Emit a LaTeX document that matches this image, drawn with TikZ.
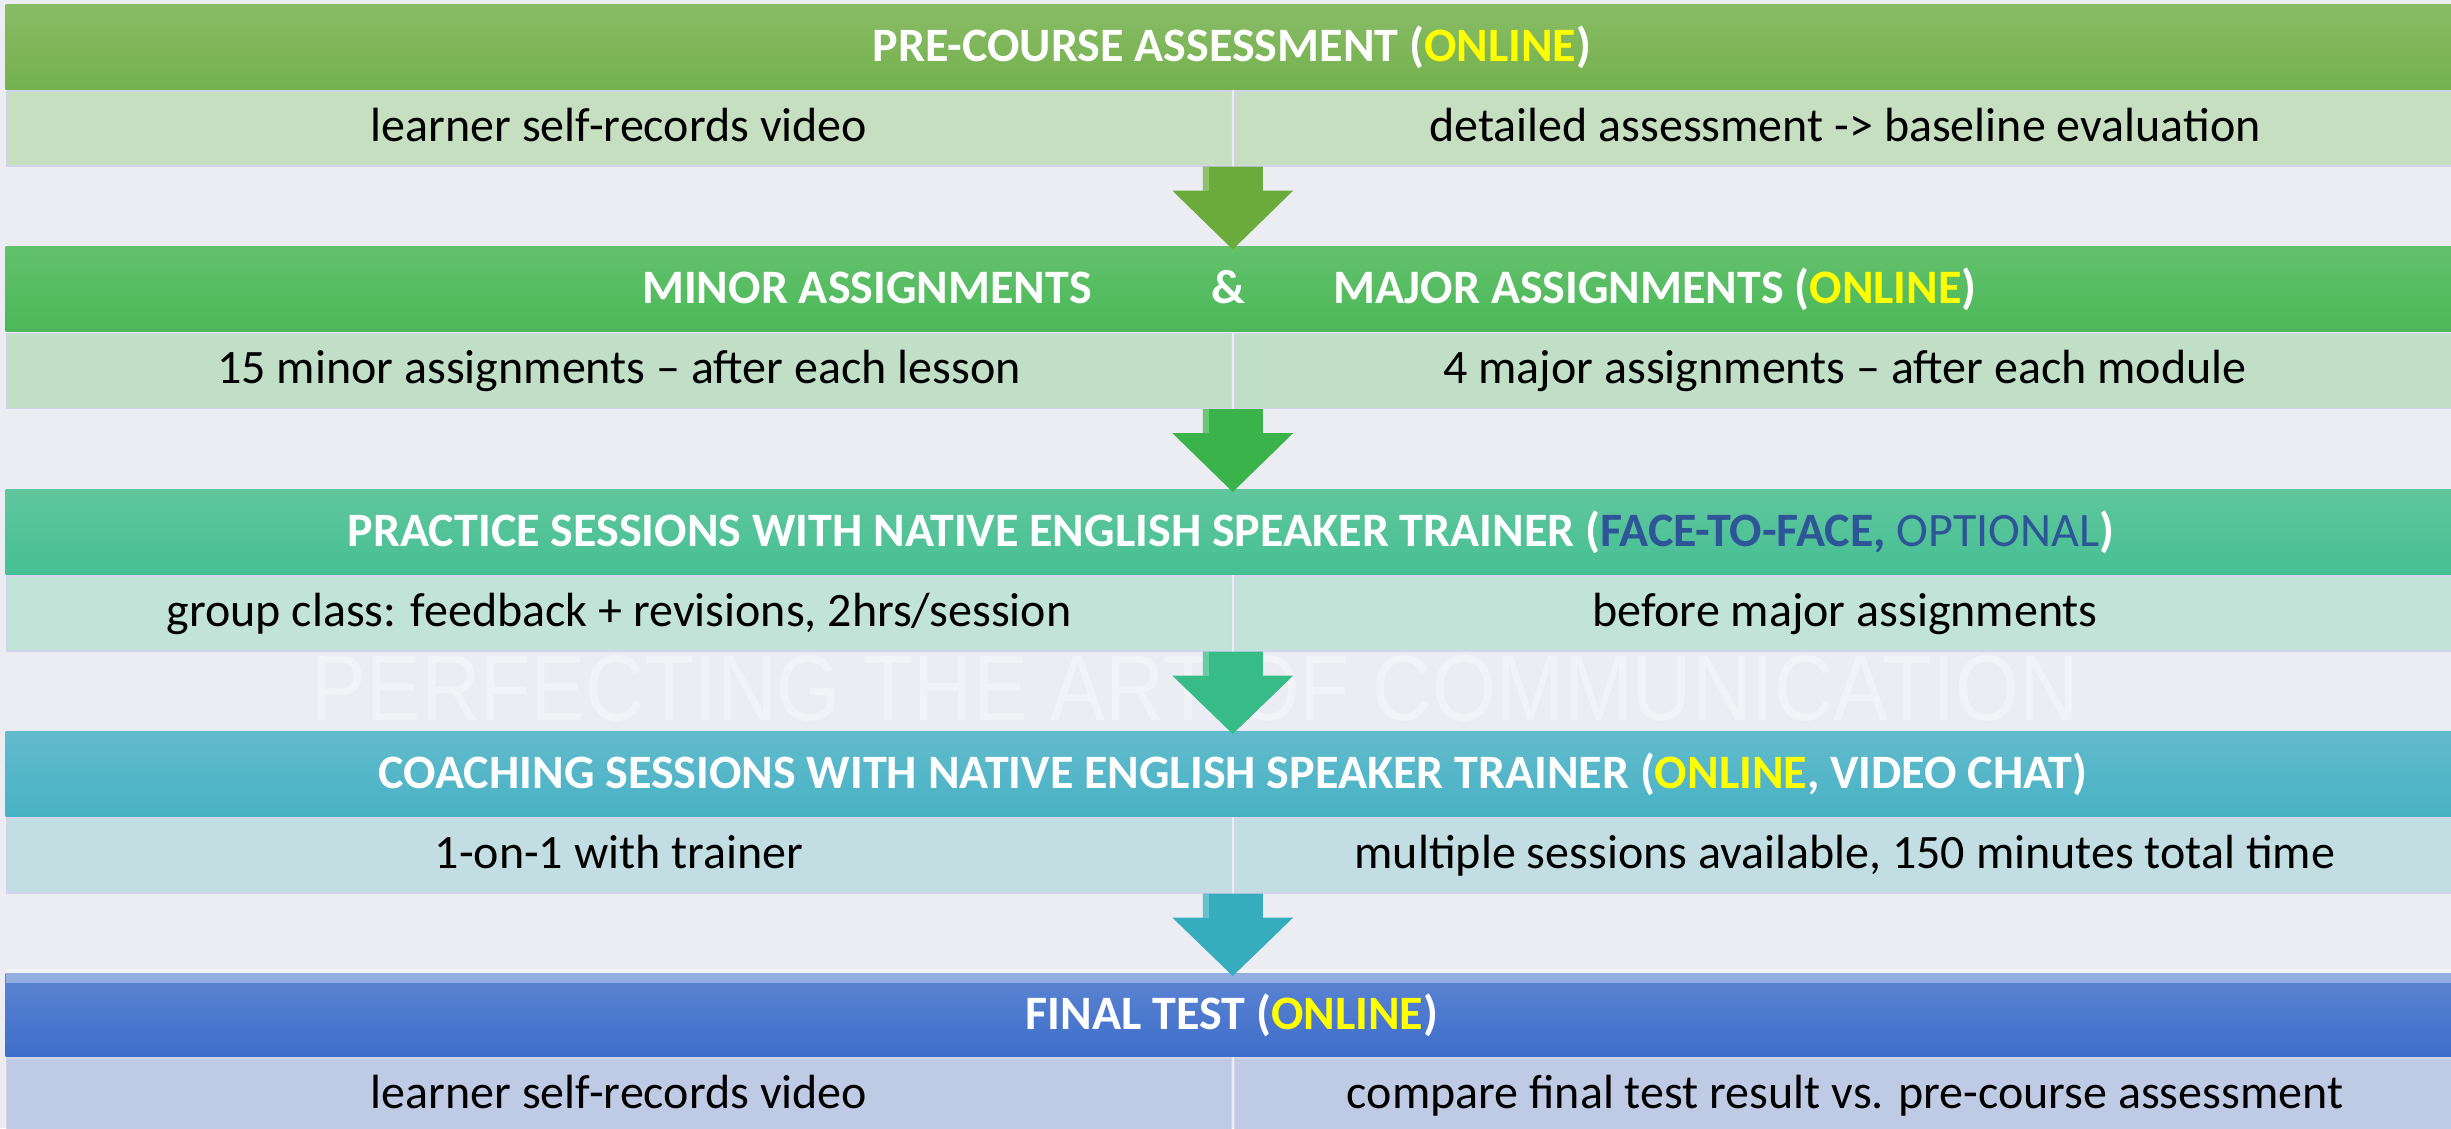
\documentclass[tikz,border=0pt]{standalone}
\usepackage{fontspec}
\usepackage{graphicx}
\setmainfont{Carlito}
\setsansfont{Liberation Sans}
\usetikzlibrary{calc,shadings}
\definecolor{bg}{HTML}{EBEDF2}
\definecolor{ylw}{HTML}{FFFF00}
\definecolor{dkb}{HTML}{2E5597}
\definecolor{bordc}{HTML}{D2D5E9}
\definecolor{hAt}{HTML}{88BC66}\definecolor{hAb}{HTML}{75B14D}
\definecolor{hBt}{HTML}{63C16C}\definecolor{hBb}{HTML}{4BB858}
\definecolor{hCt}{HTML}{60C69E}\definecolor{hCb}{HTML}{46C093}
\definecolor{hDt}{HTML}{62BBCC}\definecolor{hDb}{HTML}{48B2C5}
\definecolor{hEt}{HTML}{5C84D1}\definecolor{hEb}{HTML}{3E6ECB}
\definecolor{sA}{HTML}{C7DFC1}
\definecolor{sB}{HTML}{C1DFC6}
\definecolor{sC}{HTML}{C2E3D8}
\definecolor{sD}{HTML}{C2DEE3}
\definecolor{sE}{HTML}{BFCAE4}
\definecolor{aA}{HTML}{6AAB3B}
\definecolor{aB}{HTML}{3BB34B}
\definecolor{aC}{HTML}{37BB87}
\definecolor{aD}{HTML}{35ADBC}
\newcommand\blockarrow[3]{%
  \fill[#3] ([xshift=-30pt]#1) -- ([xshift=30pt]#1) -- ([xshift=30pt,yshift=-24pt]#1)
    -- ([xshift=60.5pt,yshift=-24pt]#1) -- (#2) -- ([xshift=-60.5pt,yshift=-24pt]#1)
    -- ([xshift=-30pt,yshift=-24pt]#1) -- cycle;
  \fill[white,opacity=0.25] ([xshift=-30pt]#1) rectangle ([xshift=-24pt,yshift=-24pt]#1);}
\begin{document}
\begin{tikzpicture}[x=1pt,y=-1pt,
  hdr/.style={rectangle, inner sep=0pt, minimum width=2456pt, minimum height=85pt, anchor=north west, draw=none},
  subbox/.style={rectangle, inner sep=0pt, minimum height=75pt, anchor=north west, draw=bordc, line width=1.5pt},
  htxt/.style={anchor=base, text=white, font=\fontsize{48}{56}\selectfont\bfseries, inner sep=0pt},
  stxt/.style={anchor=base, text=black, font=\fontsize{48}{56}\selectfont, inner sep=0pt},
  wm/.style={anchor=base, text=white, opacity=0.38, inner sep=0pt},
]
\fill[bg] (0,0) rectangle (2451,1128);
\useasboundingbox (0,0) rectangle (2451,1128);
\clip (0,0) rectangle (2451,1128);

% watermark
\node[wm] (wmark) at (1195,720) {\resizebox{1766pt}{65pt}{\sffamily PERFECTING THE ART OF COMMUNICATION}};

% ---------- row 1
\node[hdr, top color=hAt, bottom color=hAb] (h1) at (5.5,4) {};
\node[htxt] (h1t) at (1232,61) {PRE-COURSE ASSESSMENT (\textcolor{ylw}{ONLINE})};
\node[subbox, fill=sA, minimum width=1225pt] (s1l) at (5.5,90) {};
\node[subbox, fill=sA, minimum width=1226pt] (s1r) at (1233.5,90) {};
\node[stxt] (t1l) at (619,141) {learner self-records video};
\node[stxt] (t1r) at (1845,141) {detailed assessment -> baseline evaluation};

% ---------- row 2
\node[hdr, top color=hBt, bottom color=hBb] (h2) at (5.5,246.5) {};
\node[htxt, anchor=base west] (h2a) at (642,303.5) {MINOR ASSIGNMENTS};
\node[htxt] (h2b) at (1228,303.5) {\&};
\node[htxt, anchor=base west] (h2c) at (1333,303.5) {MAJOR ASSIGNMENTS (\textcolor{ylw}{ONLINE})};
\node[subbox, fill=sB, minimum width=1225pt] (s2l) at (5.5,332.5) {};
\node[subbox, fill=sB, minimum width=1226pt] (s2r) at (1233.5,332.5) {};
\node[stxt] (t2l) at (619,383.5) {15 minor assignments -- after each lesson};
\node[stxt] (t2r) at (1845,383.5) {4 major assignments -- after each module};

% ---------- row 3
\node[hdr, top color=hCt, bottom color=hCb] (h3) at (5.5,489) {};
\node[htxt] (h3t) at (1231,546) {PRACTICE SESSIONS WITH NATIVE ENGLISH SPEAKER TRAINER (\textcolor{dkb}{FACE-TO-FACE, \mdseries OPTIONAL})};
\node[subbox, fill=sC, minimum width=1225pt] (s3l) at (5.5,575) {};
\node[subbox, fill=sC, minimum width=1226pt] (s3r) at (1233.5,575) {};
\node[stxt] (t3l) at (619,626) {group class: feedback + revisions, 2hrs/session};
\node[stxt] (t3r) at (1845,626) {before major assignments};

% ---------- row 4
\node[hdr, top color=hDt, bottom color=hDb] (h4) at (5.5,731) {};
\node[htxt] (h4t) at (1233,788) {COACHING SESSIONS WITH NATIVE ENGLISH SPEAKER TRAINER (\textcolor{ylw}{ONLINE}, VIDEO CHAT)};
\node[subbox, fill=sD, minimum width=1225pt] (s4l) at (5.5,817) {};
\node[subbox, fill=sD, minimum width=1226pt] (s4r) at (1233.5,817) {};
\node[stxt] (t4l) at (619,868) {1-on-1 with trainer};
\node[stxt] (t4r) at (1845,868) {multiple sessions available, 150 minutes total time};

% ---------- row 5
\node[hdr, top color=hEt, bottom color=hEb, minimum height=83pt] (h5) at (5.5,973) {};
\fill[white,opacity=0.35] (h5.north west) ++(0,-4) rectangle ([yshift=-10pt]h5.north east);
\node[htxt] (h5t) at (1232,1029) {FINAL TEST (\textcolor{ylw}{ONLINE})};
\node[subbox, fill=sE, minimum width=1225pt] (s5l) at (5.5,1057) {};
\node[subbox, fill=sE, minimum width=1226pt] (s5r) at (1233.5,1057) {};
\node[stxt] (t5l) at (619,1108) {learner self-records video};
\node[stxt] (t5r) at (1845,1108) {compare final test result vs. pre-course assessment};

% ---------- arrows
\coordinate (a1) at ($(s1l.south east)!0.5!(s1r.south west)$);
\coordinate (a2) at ($(s2l.south east)!0.5!(s2r.south west)$);
\coordinate (a3) at ($(s3l.south east)!0.5!(s3r.south west)$);
\coordinate (a4) at ($(s4l.south east)!0.5!(s4r.south west)$);
\coordinate (b1) at ([yshift=-3pt]h2.north -| a1);
\coordinate (b2) at ([yshift=-3pt]h3.north -| a2);
\coordinate (b3) at ([yshift=-3pt]h4.north -| a3);
\coordinate (b4) at ([yshift=-3pt]h5.north -| a4);
\blockarrow{a1}{b1}{aA}
\blockarrow{a2}{b2}{aB}
\blockarrow{a3}{b3}{aC}
\blockarrow{a4}{b4}{aD}
\end{tikzpicture}
\end{document}
